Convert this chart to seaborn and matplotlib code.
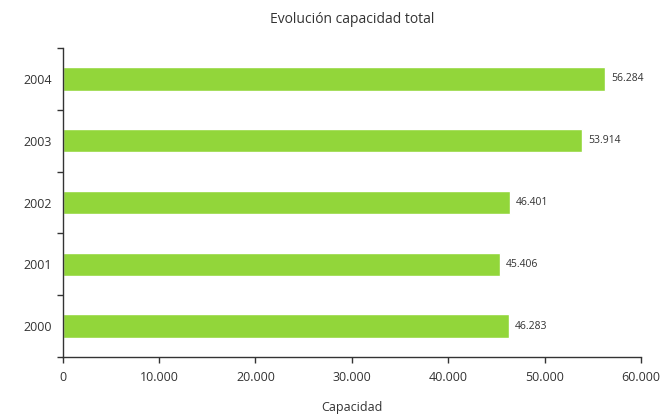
import numpy as np
import pandas as pd
import matplotlib
matplotlib.use("Agg")
import matplotlib.pyplot as plt
import seaborn as sns

# data
years = ["2004", "2003", "2002", "2001", "2000"]
capacidad = [56284, 53914, 46401, 45406, 46283]
labels = ["56.284", "53.914", "46.401", "45.406", "46.283"]
xticks = [0, 10000, 20000, 30000, 40000, 50000, 60000]
xticklabels = ["0", "10.000", "20.000", "30.000", "40.000", "50.000", "60.000"]

df = pd.DataFrame({"Year": years, "Capacidad": capacidad})

sns.set_style("white", {"xtick.bottom": True, "ytick.left": True})
plt.rcParams["font.family"] = ["Open Sans", "DejaVu Sans"]

fig = plt.figure(figsize=(6.67, 4.18), dpi=100)
ax = fig.add_axes([0.094, 0.146, 0.867, 0.739])

sns.barplot(data=df, x="Capacidad", y="Year", color="#92d63a", saturation=1,
            width=0.38, ax=ax)

for i, (v, lab) in enumerate(zip(capacidad, labels)):
    ax.text(v + 600, i, lab, va="center", ha="left", fontsize=7.5, color="#333333")

ax.set_xlim(0, 60000)
ax.set_ylim(4.5, -0.5)
ax.set_xticks(xticks)
ax.set_xticklabels(xticklabels, fontsize=9, color="#333333")
ax.set_yticks(range(len(years)))
ax.set_yticklabels(years, fontsize=9, color="#333333")
ax.tick_params(axis="y", which="major", left=False, length=0, pad=8)
ax.set_yticks(np.arange(-0.5, 5, 1), minor=True)
ax.tick_params(axis="y", which="minor", left=True, length=4, width=1,
               direction="out", color="#333333")
ax.tick_params(axis="x", bottom=True, length=4, width=1, direction="out",
               color="#333333", pad=6)

for s in ["top", "right"]:
    ax.spines[s].set_visible(False)
for s in ["left", "bottom"]:
    ax.spines[s].set_color("#333333")
    ax.spines[s].set_linewidth(1)

ax.set_xlabel("Capacidad", fontsize=9, color="#333333", labelpad=12)
ax.set_ylabel("")
ax.set_title("Evolución capacidad total", fontsize=10, color="#333333", pad=18)

fig.savefig("out.png", dpi=100)
